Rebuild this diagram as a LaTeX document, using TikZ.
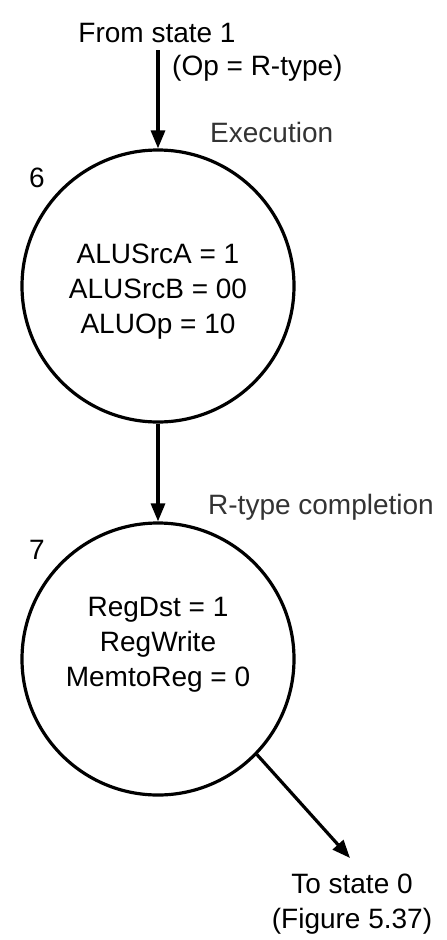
\documentclass[tikz,border=0pt]{standalone}
\usepackage{fontspec}
\setmainfont{Liberation Sans}
\usetikzlibrary{arrows.meta}
\begin{document}
\begin{tikzpicture}[x=1pt,y=-1pt,
  every node/.style={font=\fontsize{28}{35}\selectfont},
  state/.style={circle,draw,line width=3.2pt,minimum size=272pt,inner sep=0pt},
  lbl/.style={inner sep=0pt},
  soft/.style={inner sep=0pt,text=black!80},
  conn/.style={line width=3.2pt,-{Triangle[length=18pt,width=14pt]}}]
\useasboundingbox (0,0) rectangle (447,940);
\node[lbl] (from) at (157,33) {From state 1};
\node[lbl,anchor=west] (cond) at (172,68) {(Op = R-type)};
\node[soft,anchor=west] (exec) at (210,132) {Execution};
\node[state] (s6) at (158,286) {};
\node[lbl,align=center] (t6) at (158,292) {ALUSrcA = 1\\ALUSrcB = 00\\ALUOp = 10};
\node[lbl] (n6) at (37,178) {6};
\node[soft,anchor=west] (rcomp) at (208,507) {R-type completion};
\node[state] (s7) at (158,659) {};
\node[lbl,align=center] (t7) at (158,645) {RegDst = 1\\RegWrite\\MemtoReg = 0};
\node[lbl] (n7) at (37,550) {7};
\coordinate (to) at (350,858);
\node[lbl,align=center] (tolbl) at (352,904) {To state 0\\(Figure 5.37)};
\draw[conn] (158,50) -- (s6.north);
\draw[conn] (s6.south) -- (s7.north);
\draw[conn] (s7.-44) -- (to);
\end{tikzpicture}
\end{document}
